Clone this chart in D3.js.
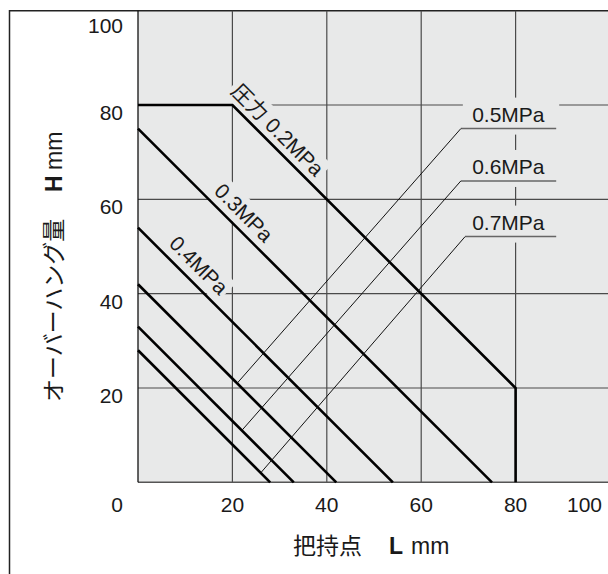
<!DOCTYPE html>
<html><head><meta charset="utf-8">
<script src="https://cdn.jsdelivr.net/npm/d3@7"></script>
<style>
body{margin:0;background:#fff}
svg{display:block}
text{font-family:"Liberation Sans","Noto Sans CJK JP",sans-serif;fill:#1a1a1a}
</style>
</head><body>
<svg id="c" width="608" height="574"></svg>
<script>
// ---------------- data ----------------
const xTicks = [0, 20, 40, 60, 80, 100];
const yTicks = [20, 40, 60, 80, 100];
const gridVals = [20, 40, 60, 80];

const pressures = ["0.2MPa", "0.3MPa", "0.4MPa", "0.5MPa", "0.6MPa", "0.7MPa"];
// grip point L (mm) and overhang H (mm) for each pressure curve
const curveL = [[0, 20, 80, 80], [0, 75], [0, 54], [0, 42], [0, 33], [0, 28]];
const curveH = [[80, 80, 20, 0], [75, 0], [54, 0], [42, 0], [33, 0], [28, 0]];

// labels written along the curves
const diagText = ["圧力", "", ""];
const diagPress = ["0.2MPa", "0.3MPa", "0.4MPa"];
const diagStartL = [18.4, 14.7, 5.0];
const diagStartH = [81.6, 60.3, 49.0];

// labels with leader lines
const leadText = ["0.5MPa", "0.6MPa", "0.7MPa"];
const leadFromL = [68.4, 68.4, 69.3];
const leadFromH = [75.0, 63.9, 52.1];
const leadToL = [21.0, 22.0, 26.0];
const leadToH = [21.0, 11.0, 2.0];
const leadEndL = 88.6;
const leadTextL = 70.8;

// ---------------- chart ----------------
const W = 608, Hh = 574;
const x = d3.scaleLinear().domain([0, 100]).range([138, 610]);
const y = d3.scaleLinear().domain([0, 100]).range([482.3, 10.7]);
const svg = d3.select("#c");

const FS = 21;

// plot background
svg.append("rect").attr("x", x(0)).attr("y", y(100))
  .attr("width", W - x(0)).attr("height", y(0) - y(100)).attr("fill", "#e8e9e9");

// frame
svg.append("path").attr("d", `M9.5,${Hh}V${y(100)}H${W}`)
  .attr("fill", "none").attr("stroke", "#222").attr("stroke-width", 1.5);

// grid
const grid = svg.append("g");
grid.selectAll("line.v").data(gridVals).join("line").attr("class", "v")
  .attr("x1", d => x(d)).attr("x2", d => x(d)).attr("y1", y(100)).attr("y2", y(0))
  .attr("stroke", "#4a4a4a").attr("stroke-width", 1.2);
grid.selectAll("line.h").data(gridVals).join("line").attr("class", "h")
  .attr("x1", x(0)).attr("x2", W).attr("y1", d => y(d)).attr("y2", d => y(d))
  .attr("stroke", "#4a4a4a").attr("stroke-width", 1.2);

// axes lines
svg.append("line").attr("x1", x(0)).attr("x2", W).attr("y1", y(0)).attr("y2", y(0))
  .attr("stroke", "#555").attr("stroke-width", 1.6);
svg.append("line").attr("x1", x(0)).attr("x2", x(0)).attr("y1", y(100)).attr("y2", y(0))
  .attr("stroke", "#111").attr("stroke-width", 1.3);

const bgLayer = svg.append("g");
const curveLayer = svg.append("g");
const leadLayer = svg.append("g");
const labelLayer = svg.append("g");

// tick labels
svg.append("g").selectAll("text").data(yTicks).join("text")
  .attr("x", 123).attr("y", d => y(d) + (d === 100 ? 22.6 : 15))
  .attr("text-anchor", "end").attr("font-size", FS).text(d => d);
svg.append("g").selectAll("text").data(xTicks).join("text")
  .attr("x", d => d === 0 ? 123 : (d === 100 ? 602 : x(d)))
  .attr("y", 512)
  .attr("text-anchor", d => d === 0 || d === 100 ? "end" : "middle")
  .attr("font-size", FS).text(d => d);

// curves
const line = d3.line().x(d => x(d[0])).y(d => y(d[1]));
curveL.forEach((Ls, i) => {
  const pts = Ls.map((L, j) => [L, curveH[i][j]]);
  curveLayer.append("path").attr("d", line(pts)).attr("fill", "none")
    .attr("stroke", "#000").attr("stroke-width", 2.6).attr("stroke-linejoin", "miter");
});

// diagonal labels
const ang = Math.atan2(y(0) - y(1), x(1) - x(0)) * 180 / Math.PI;
const diagOff = [7, 8, 9];
diagPress.forEach((p, i) => {
  const tr = `translate(${x(diagStartL[i])},${y(diagStartH[i])}) rotate(${ang})`;
  const g = labelLayer.append("g").attr("transform", tr);
  const t = g.append("text").attr("x", 0).attr("y", -diagOff[i]).attr("font-size", FS);
  if (diagText[i]) {
    t.append("tspan").text(diagText[i]);
    t.append("tspan").attr("dx", 6).text(p);
  } else {
    t.text(p);
  }
  const w = t.node().getComputedTextLength() + (diagText[i] ? 6 : 0);
  const pad = 6, cap = 15;
  bgLayer.append("rect").attr("transform", tr)
    .attr("x", -3).attr("y", -diagOff[i] - cap - pad)
    .attr("width", w + 6).attr("height", cap + 2 * pad + 1)
    .attr("fill", "#e8e9e9");
});

// leader labels
leadText.forEach((s, i) => {
  const uy = y(leadFromH[i]);
  const tb = uy - 7;
  bgLayer.append("rect").attr("x", x(leadFromL[i]) + 2).attr("y", tb - 15 - 9)
    .attr("width", x(leadEndL) - x(leadFromL[i]) + 1).attr("height", (uy + 6) - (tb - 24))
    .attr("fill", "#e8e9e9");
  leadLayer.append("line").attr("x1", x(leadFromL[i])).attr("x2", x(leadEndL))
    .attr("y1", uy).attr("y2", uy).attr("stroke", "#666").attr("stroke-width", 1.5);
  leadLayer.append("line").attr("x1", x(leadFromL[i])).attr("y1", uy)
    .attr("x2", x(leadToL[i])).attr("y2", y(leadToH[i]))
    .attr("stroke", "#111").attr("stroke-width", 1);
  labelLayer.append("text").attr("x", x(leadTextL)).attr("y", tb)
    .attr("font-size", FS).text(s);
});

// axis titles
const xt = svg.append("text").attr("x", 293).attr("y", 554).attr("font-size", 23);
xt.append("tspan").text("把持点");
xt.append("tspan").attr("x", 389).attr("font-weight", "bold").text("L");
xt.append("tspan").attr("x", 411).text("mm");

const yt = svg.append("text").attr("transform", "translate(62,402) rotate(-90)").attr("font-size", 23);
yt.append("tspan").text("オーバーハング量");
yt.append("tspan").attr("x", 210).attr("font-weight", "bold").text("H");
yt.append("tspan").attr("x", 232).text("mm");
</script>
</body></html>
